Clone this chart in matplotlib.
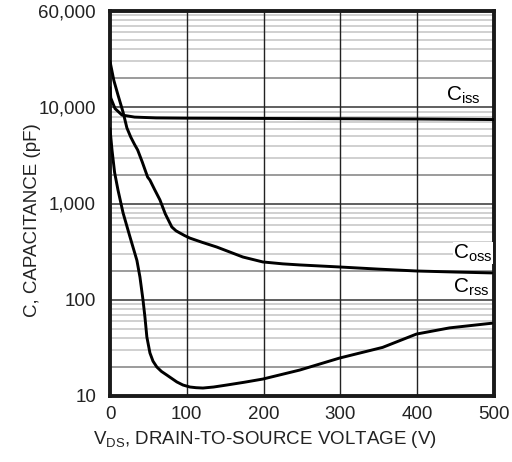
import matplotlib
matplotlib.use("Agg")
import matplotlib.pyplot as plt
from matplotlib.ticker import FixedLocator, NullFormatter

plt.rcParams['font.family'] = ['Liberation Sans', 'DejaVu Sans']
plt.rcParams['mathtext.fontset'] = 'custom'
plt.rcParams['mathtext.rm'] = 'Liberation Sans'
plt.rcParams['mathtext.it'] = 'Liberation Sans:italic'

# Data
v_iss = [0, 1, 6.5, 15.6, 32, 60, 100, 200, 300, 400, 500]
c_iss = [16000, 12500, 9700, 8300, 7900, 7750, 7700, 7650, 7600, 7550, 7450]

v_oss = [0, 5, 10.4, 17, 22, 27, 32, 36, 42, 49, 52, 58, 65, 72, 80.5, 86, 91, 97, 104, 120, 139, 173, 199, 225, 247, 299, 350, 399, 450, 497]
c_oss = [30000, 19000, 13400, 8900, 6100, 4900, 4100, 3600, 2700, 1880, 1750, 1400, 1090, 780, 570, 520, 494, 465, 437, 395, 353, 278, 247, 236, 230, 219, 208, 199, 194, 190]

v_rss = [0, 2.6, 6, 10.4, 17, 26, 35, 39, 43, 45.5, 48, 52, 56, 61, 67, 74, 87, 95, 104, 112, 121, 135, 152, 175, 199, 247, 299, 355, 399, 442, 497]
c_rss = [6000, 3600, 2100, 1380, 800, 450, 257, 172, 99, 66, 41, 28, 23, 20, 18, 16.5, 14, 13, 12.4, 12.2, 12.1, 12.4, 13, 13.9, 15, 18.6, 24.8, 32, 44, 51, 57]

x_ticks = [0, 100, 200, 300, 400, 500]
y_ticks = [10, 100, 1000, 10000, 100000]
y_tick_labels = ["10", "100", "1,000", "10,000", "60,000"]

fig = plt.figure(figsize=(5.12, 4.62), dpi=100)
ax = fig.add_axes([110/512, 1-396/462, 384/512, 385/462])
ax.set_yscale('log')
ax.set_xlim(0, 500)
ax.set_ylim(10, 100000)

# grid lines
for d in [10, 100, 1000, 10000]:
    for m in range(2, 10):
        val = d * m
        col = '#8a8a8a' if m == 2 else '#c8c8c8'
        ax.axhline(val, color=col, lw=1.2, zorder=1)
    if d > 10:
        ax.axhline(d, color='#444444', lw=1.2, zorder=1)
for xv in x_ticks[1:-1]:
    ax.axvline(xv, color='#222222', lw=1.0, zorder=1)

for vv, cc in [(v_iss, c_iss), (v_oss, c_oss), (v_rss, c_rss)]:
    ax.plot(vv, cc, color='black', lw=2.1, zorder=3,
            solid_joinstyle='round', solid_capstyle='round')

ax.yaxis.set_major_locator(FixedLocator(y_ticks))
ax.set_yticklabels(y_tick_labels)
ax.yaxis.set_minor_formatter(NullFormatter())
ax.yaxis.set_minor_locator(FixedLocator([]))
ax.set_xticks(x_ticks)
ax.tick_params(axis='both', length=0, labelsize=13.5, colors='#222222')
ax.tick_params(axis='y', pad=10)
ax.tick_params(axis='x', pad=7)
for s in ax.spines.values():
    s.set_linewidth(2.8)
    s.set_color('#1a1a1a')

fig.text(265/512, 1-440/462, r'V$_{\mathrm{DS}}$, DRAIN-TO-SOURCE VOLTAGE (V)',
         fontsize=13.5, color='#222222', ha='center', va='center')
fig.text(33/512, 1-220/462, 'C, CAPACITANCE (pF)', rotation=90,
         fontsize=13.5, color='#222222', ha='center', va='center')

bb = dict(facecolor='white', edgecolor='none', pad=0.5)
ax.text(438, 13400, r'C$_{\mathrm{iss}}$', fontsize=15, va='center', ha='left', zorder=4)
ax.text(447, 306, r'C$_{\mathrm{oss}}$', fontsize=15, va='center', ha='left', zorder=4, bbox=bb)
ax.text(447, 135, r'C$_{\mathrm{rss}}$', fontsize=15, va='center', ha='left', zorder=4, bbox=bb)

fig.savefig('out.png', dpi=100)
